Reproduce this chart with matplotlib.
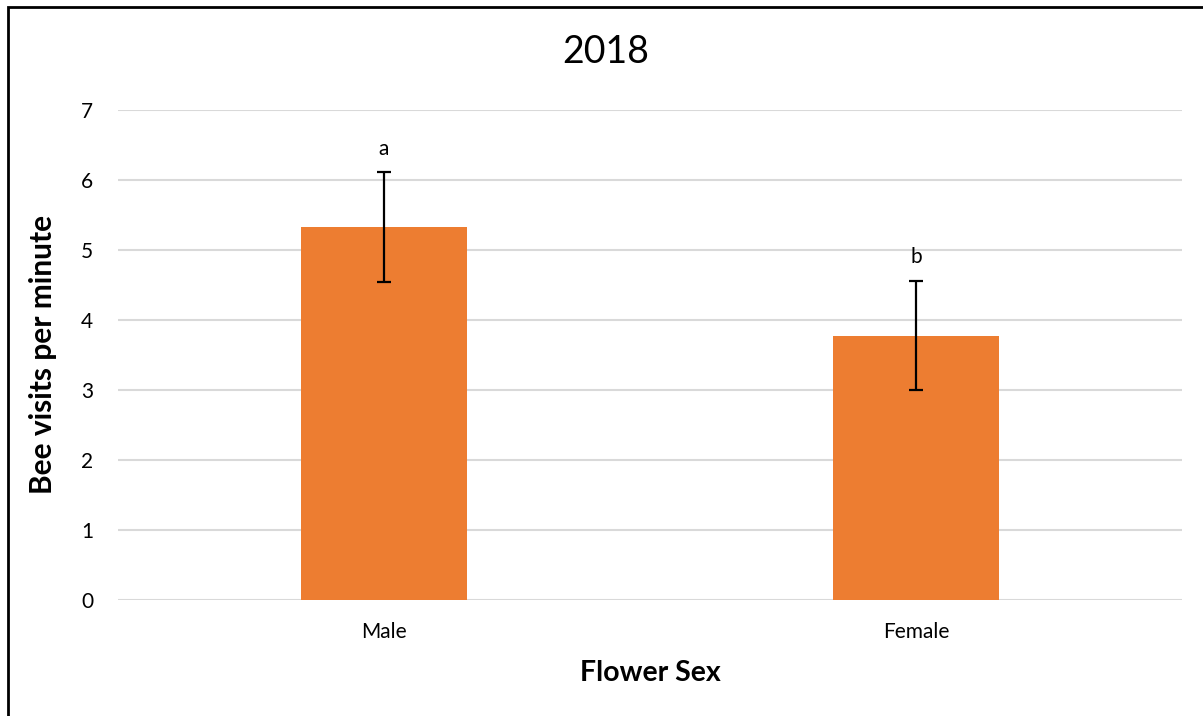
import matplotlib.pyplot as plt
from matplotlib.patches import Rectangle

plt.rcParams['font.family'] = ['Lato', 'DejaVu Sans']

# Data
categories = ["Male", "Female"]
visits = [5.32, 3.77]
errors = [0.78, 0.78]
letters = ["a", "b"]
y_ticks = [0, 1, 2, 3, 4, 5, 6, 7]

W, H = 1203, 716
fig = plt.figure(figsize=(W / 100, H / 100), dpi=100)
fig.patch.set_facecolor("white")

# Plot area in pixel terms
left, right = 118, 1182
top, bottom = 109.5, 599.5
ax = fig.add_axes([left / W, (H - bottom) / H, (right - left) / W, (bottom - top) / H])

x = list(range(len(categories)))
ax.bar(x, visits, width=0.313, color="#ED7D31", zorder=3)
ax.errorbar(x, visits, yerr=errors, fmt="none", ecolor="black",
            elinewidth=1.6, capsize=5, capthick=1.6, zorder=4)

for xi, v, e, lab in zip(x, visits, errors, letters):
    ax.annotate(lab, (xi, v + e), xytext=(0, 10), textcoords="offset points",
                ha="center", va="bottom", fontsize=15, color="black")

ax.set_xlim(-0.5, len(categories) - 0.5)
ax.set_ylim(0, 7)
ax.set_yticks(y_ticks)
ax.set_xticks(x)
ax.set_xticklabels(categories)
ax.tick_params(axis="both", length=0, labelsize=15, colors="black")
ax.tick_params(axis="y", pad=18)
ax.tick_params(axis="x", pad=16)

ax.yaxis.grid(True, color="#D9D9D9", linewidth=1.5, zorder=0)
ax.set_axisbelow(True)
for s in ax.spines.values():
    s.set_visible(False)

ax.set_xlabel("Flower Sex", fontsize=20.5, fontweight="bold", labelpad=13)
ax.set_ylabel("Bee visits per minute", fontsize=21.5, fontweight="bold", labelpad=17)

fig.text(606 / W, 1 - 52 / H, "2018", fontsize=27, ha="center", va="center")

# Outer frame around the chart
fig.patches.append(Rectangle((8 / W, -0.1), 1.2, (H - 6.5) / H + 0.1,
                             transform=fig.transFigure, fill=False,
                             edgecolor="black", linewidth=2))

fig.savefig("out.png", dpi=100)
